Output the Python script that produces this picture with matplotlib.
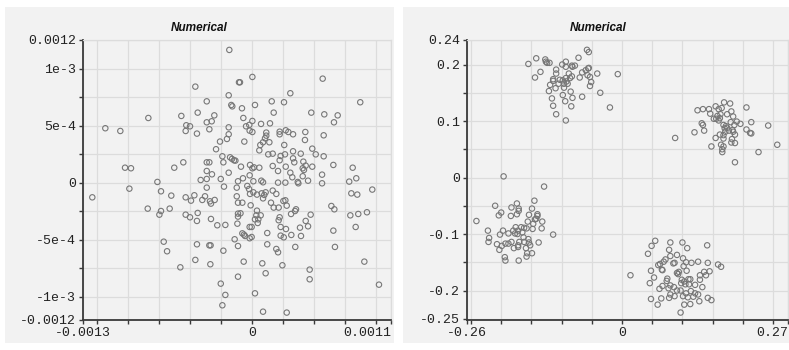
import matplotlib
matplotlib.use("Agg")
import matplotlib.pyplot as plt
from matplotlib.patches import Rectangle
import numpy as np

# left panel points, values in units of 1e-4
left_upper_left = [
    (-1.83, 11.67), (-1.05, 8.83), (-4.57, 8.45), (-1.88, 7.69), (-3.65, 7.16), (-1.67, 6.84),
    (-1.59, 6.72), (-4.38, 6.17), (-5.70, 5.88), (-3.04, 5.93), (-8.36, 5.70), (-3.25, 5.41),
    (-3.65, 5.32), (-1.88, 4.88), (-5.30, 5.06), (-5.00, 4.97), (-5.35, 4.56), (-11.83, 4.80),
    (-10.62, 4.56), (-4.44, 4.33), (-3.44, 4.71), (-1.88, 4.27), (-2.02, 3.86), (-2.58, 3.63),
    (-2.90, 2.96), (-2.39, 2.34), (-1.77, 2.25), (-1.61, 2.11), (-1.45, 1.99), (-1.34, 1.96),
    (-2.31, 1.81), (-5.54, 1.81), (-3.65, 1.81), (-3.44, 1.81), (-10.24, 1.34), (-9.76, 1.29),
    (-6.27, 1.34), (-3.65, 1.05), (-1.88, 0.90), (-3.23, 0.76), (-7.63, 0.09), (-4.14, 0.26),
    (-3.65, 0.35), (-2.52, 0.35), (-1.13, 0.15),
]
left_upper_right = [
    (0.03, 9.30), (-0.97, 8.83), (5.70, 9.15), (3.09, 7.87), (8.73, 7.08), (1.59, 7.16),
    (2.58, 7.08), (-0.81, 6.55), (0.24, 6.84), (1.75, 6.17), (4.78, 6.17), (5.83, 6.02),
    (6.91, 5.93), (-0.70, 5.70), (0.03, 5.44), (6.61, 5.32), (-0.22, 5.09), (-0.48, 4.97),
    (0.73, 5.18), (1.45, 5.23), (-0.19, 4.59), (0.03, 4.47), (1.15, 4.42), (2.23, 4.50),
    (2.23, 4.27), (2.72, 4.62), (2.93, 4.47), (3.31, 4.27), (4.30, 4.47), (5.78, 4.18),
    (4.27, 3.77), (1.15, 4.15), (1.05, 3.92), (-0.62, 3.63), (0.89, 3.57), (1.40, 3.57),
    (0.67, 3.33), (2.60, 3.33), (0.59, 2.86), (4.86, 3.01), (3.31, 2.78), (1.31, 2.51),
    (1.67, 2.57), (2.66, 2.51), (3.93, 2.57), (5.14, 2.51), (5.78, 2.34), (2.31, 2.37),
    (2.23, 1.99), (3.31, 2.16), (3.41, 1.81), (4.14, 1.87), (4.33, 1.52), (4.09, 1.29),
    (4.19, 1.14), (4.86, 1.43), (6.56, 1.58), (8.12, 1.34), (8.41, 0.41), (7.84, 0.12),
    (5.65, 0.73), (5.65, -0.03), (-0.89, 1.43), (-0.16, 1.58), (0.03, 1.29), (0.16, 1.37),
    (0.59, 1.34), (1.67, 1.49), (2.10, 1.05), (2.72, 1.43), (3.09, 0.90), (3.25, 0.50),
    (4.09, 0.59), (4.52, 0.20), (-0.19, 0.67), (-0.73, 0.41), (0.11, 0.15), (0.75, 0.20),
    (0.89, 0.06), (2.10, 0.03), (2.69, 0.03), (3.69, 0.09), (3.74, -0.03),
]
left_lower_left = [
    (-12.88, -1.26), (-9.89, -0.50), (-7.34, -0.73), (-6.51, -1.11), (-5.35, -1.26),
    (-4.92, -1.55), (-4.65, -1.08), (-4.01, -1.49), (-3.79, -1.17), (-3.65, -0.41),
    (-2.26, -0.32), (-1.23, -0.41), (-1.23, -1.17), (-1.13, -1.73), (-3.39, -1.61),
    (-3.31, -1.81), (-3.01, -1.49), (-8.41, -2.25), (-7.34, -2.46), (-7.47, -2.78),
    (-6.64, -2.25), (-5.35, -2.78), (-5.00, -3.01), (-4.38, -2.63), (-4.44, -3.33),
    (-3.31, -3.16), (-2.80, -3.71), (-2.15, -3.68), (-1.13, -2.95), (-1.13, -2.69),
    (-1.18, -3.57), (-1.40, -4.94), (-1.13, -5.53), (-7.12, -5.15), (-6.85, -5.99),
    (-4.44, -5.38), (-3.44, -5.47), (-3.34, -5.47), (-2.31, -5.94), (-4.57, -6.75),
    (-3.36, -7.13), (-5.78, -7.40), (-1.13, -8.22), (-2.52, -8.83), (-2.15, -9.82),
    (-2.39, -10.73),
]
left_lower_right = [
    (-0.38, -0.26), (-0.24, -0.53), (-0.16, -0.96), (0.11, -0.82), (0.40, -1.02), (0.78, -0.91),
    (0.89, -1.35), (0.99, -1.05), (1.10, -0.82), (1.67, -0.67), (1.96, -0.96), (1.53, -1.73),
    (1.75, -2.16), (2.15, -2.16), (2.53, -1.58), (2.69, -1.52), (2.80, -1.99), (-0.78, -1.73),
    (-0.11, -1.96), (-0.93, -2.66), (0.35, -2.84), (0.70, -2.84), (0.24, -3.19), (0.51, -3.19),
    (0.46, -3.51), (0.40, -2.43), (-0.19, -3.86), (-0.03, -3.86), (-0.78, -4.42), (-0.65, -4.53),
    (-0.56, -4.65), (-0.19, -4.85), (-0.03, -4.74), (1.23, -4.39), (1.23, -5.38), (1.96, -5.79),
    (2.10, -6.08), (2.15, -3.27), (2.23, -3.01), (2.31, -3.86), (2.74, -4.04), (2.31, -4.62),
    (2.56, -4.77), (3.17, -4.56), (3.15, -2.72), (3.47, -2.46), (3.55, -2.31), (3.87, -3.92),
    (3.95, -4.65), (3.49, -5.61), (4.33, -3.33), (4.52, -3.80), (4.73, -2.78), (2.45, -7.22),
    (0.83, -7.05), (1.10, -7.92), (-0.67, -6.90), (0.24, -9.68), (0.89, -11.29), (2.80, -11.37),
    (4.65, -7.60), (4.65, -8.45), (6.40, -2.02), (6.64, -2.31), (6.56, -4.18), (6.69, -5.61),
    (8.01, -0.91), (8.49, -1.02), (9.70, -0.58), (7.93, -2.84), (8.57, -2.72), (9.27, -2.57),
    (8.36, -3.86), (9.06, -6.90), (10.24, -8.92),
]

# right panel, four clusters
right_top_left = [
    (-0.058, 0.226), (-0.055, 0.222), (-0.142, 0.211), (-0.155, 0.201), (-0.127, 0.209),
    (-0.126, 0.205), (-0.124, 0.203), (-0.120, 0.203), (-0.093, 0.205), (-0.099, 0.200),
    (-0.093, 0.196), (-0.083, 0.198), (-0.078, 0.198), (-0.082, 0.196), (-0.072, 0.212),
    (-0.056, 0.193), (-0.055, 0.194), (-0.060, 0.190), (-0.109, 0.191), (-0.109, 0.184),
    (-0.135, 0.187), (-0.066, 0.186), (-0.057, 0.181), (-0.053, 0.178), (-0.041, 0.184),
    (-0.007, 0.183), (-0.144, 0.177), (-0.088, 0.184), (-0.083, 0.179), (-0.086, 0.176),
    (-0.070, 0.177), (-0.114, 0.174), (-0.114, 0.171), (-0.103, 0.173), (-0.098, 0.172),
    (-0.093, 0.176), (-0.092, 0.170), (-0.096, 0.166), (-0.090, 0.166), (-0.105, 0.166),
    (-0.119, 0.164), (-0.051, 0.169), (-0.053, 0.162), (-0.096, 0.159), (-0.110, 0.158),
    (-0.121, 0.153), (-0.085, 0.152), (-0.036, 0.150), (-0.098, 0.146), (-0.066, 0.143),
    (-0.082, 0.141), (-0.116, 0.140), (-0.094, 0.135), (-0.114, 0.127), (-0.084, 0.126),
    (-0.020, 0.124), (-0.109, 0.112), (-0.093, 0.101), (-0.196, 0.002),
]
right_top_right = [
    (0.169, 0.133), (0.179, 0.131), (0.206, 0.124), (0.155, 0.126), (0.160, 0.121),
    (0.165, 0.123), (0.125, 0.119), (0.134, 0.121), (0.144, 0.121), (0.146, 0.113),
    (0.163, 0.112), (0.158, 0.109), (0.156, 0.104), (0.160, 0.101), (0.162, 0.105),
    (0.181, 0.117), (0.174, 0.112), (0.184, 0.108), (0.152, 0.104), (0.132, 0.096),
    (0.134, 0.093), (0.168, 0.093), (0.172, 0.091), (0.174, 0.088), (0.170, 0.087),
    (0.180, 0.098), (0.186, 0.093), (0.190, 0.099), (0.196, 0.095), (0.214, 0.098),
    (0.242, 0.092), (0.177, 0.083), (0.183, 0.084), (0.184, 0.081), (0.171, 0.081),
    (0.168, 0.075), (0.162, 0.076), (0.136, 0.083), (0.120, 0.080), (0.206, 0.085),
    (0.212, 0.079), (0.214, 0.078), (0.187, 0.076), (0.088, 0.070), (0.155, 0.070),
    (0.168, 0.069), (0.182, 0.068), (0.181, 0.062), (0.187, 0.061), (0.148, 0.055),
    (0.164, 0.058), (0.168, 0.055), (0.166, 0.050), (0.166, 0.045), (0.226, 0.045),
    (0.257, 0.058), (0.187, 0.027),
]
right_bottom_left = [
    (-0.129, -0.016), (-0.210, -0.050), (-0.145, -0.041), (-0.174, -0.046), (-0.171, -0.055),
    (-0.171, -0.059), (-0.183, -0.053), (-0.174, -0.065), (-0.200, -0.062), (-0.204, -0.067),
    (-0.184, -0.068), (-0.149, -0.055), (-0.154, -0.066), (-0.140, -0.065), (-0.140, -0.068),
    (-0.142, -0.073), (-0.144, -0.074), (-0.132, -0.078), (-0.156, -0.078), (-0.147, -0.082),
    (-0.241, -0.077), (-0.133, -0.090), (-0.148, -0.091), (-0.176, -0.088), (-0.167, -0.088),
    (-0.162, -0.089), (-0.158, -0.090), (-0.180, -0.094), (-0.172, -0.094), (-0.165, -0.097),
    (-0.197, -0.094), (-0.222, -0.094), (-0.188, -0.099), (-0.202, -0.101), (-0.177, -0.099),
    (-0.173, -0.100), (-0.114, -0.101), (-0.163, -0.106), (-0.220, -0.107), (-0.221, -0.114),
    (-0.155, -0.109), (-0.154, -0.115), (-0.152, -0.120), (-0.162, -0.114), (-0.170, -0.114),
    (-0.138, -0.115), (-0.183, -0.114), (-0.188, -0.117), (-0.193, -0.117), (-0.207, -0.118),
    (-0.199, -0.121), (-0.203, -0.128), (-0.172, -0.120), (-0.172, -0.123), (-0.179, -0.125),
    (-0.159, -0.125), (-0.149, -0.134), (-0.157, -0.134), (-0.158, -0.140), (-0.194, -0.141),
    (-0.193, -0.147), (-0.171, -0.147),
]
right_bottom_right = [
    (0.055, -0.112), (0.080, -0.115), (0.100, -0.115), (0.049, -0.121), (0.141, -0.120),
    (0.108, -0.125), (0.078, -0.128), (0.043, -0.135), (0.091, -0.137), (0.080, -0.139),
    (0.101, -0.143), (0.072, -0.145), (0.069, -0.149), (0.063, -0.153), (0.085, -0.152),
    (0.087, -0.151), (0.106, -0.150), (0.115, -0.151), (0.126, -0.149), (0.142, -0.151),
    (0.102, -0.157), (0.060, -0.155), (0.066, -0.163), (0.067, -0.164), (0.048, -0.165),
    (0.107, -0.165), (0.091, -0.169), (0.093, -0.171), (0.094, -0.167), (0.136, -0.167),
    (0.145, -0.166), (0.159, -0.154), (0.164, -0.158), (0.129, -0.173), (0.139, -0.173),
    (0.014, -0.173), (0.053, -0.177), (0.075, -0.179), (0.046, -0.187), (0.099, -0.181),
    (0.103, -0.184), (0.098, -0.187), (0.110, -0.180), (0.113, -0.180), (0.105, -0.189),
    (0.111, -0.189), (0.121, -0.190), (0.129, -0.181), (0.074, -0.183), (0.067, -0.192),
    (0.062, -0.197), (0.080, -0.191), (0.077, -0.196), (0.086, -0.194), (0.091, -0.200),
    (0.097, -0.200), (0.133, -0.194), (0.114, -0.201), (0.121, -0.205), (0.126, -0.207),
    (0.106, -0.205), (0.080, -0.207), (0.087, -0.210), (0.078, -0.213), (0.101, -0.210),
    (0.109, -0.212), (0.118, -0.211), (0.048, -0.215), (0.065, -0.214), (0.128, -0.219),
    (0.142, -0.213), (0.148, -0.217), (0.059, -0.225), (0.103, -0.225), (0.113, -0.224),
    (0.097, -0.239),
]

W, H = 789, 350
bg = "#f2f2f2"
grid_col = "#dcdcdc"
axis_col = "#3a3a3a"
mono = "Liberation Mono"

fig = plt.figure(figsize=(W / 100, H / 100), dpi=100, facecolor="white")
for x0, x1 in [(5, 394), (403, 789)]:
    fig.patches.append(Rectangle((x0 / W, (H - 343) / H), (x1 - x0) / W, 336 / H,
                                 transform=fig.transFigure, facecolor=bg,
                                 edgecolor="none", zorder=-5))

ax1 = fig.add_axes([83 / W, 30 / H, 308 / W, 280 / H])
ax2 = fig.add_axes([467 / W, 30 / H, 321 / W, 280 / H])


def style(ax, xlim, ylim, xticks, xlabels, yticks, ylabels):
    ax.set_facecolor(bg)
    ax.set_xlim(*xlim)
    ax.set_ylim(*ylim)
    ax.set_xticks(xticks)
    ax.set_xticklabels(xlabels)
    ax.set_yticks(yticks)
    ax.set_yticklabels(ylabels)
    ax.grid(True, color=grid_col, lw=0.9, zorder=0)
    ax.set_axisbelow(True)
    for s in ["top", "right"]:
        ax.spines[s].set_color(grid_col)
        ax.spines[s].set_linewidth(0.9)
    for s in ["left", "bottom"]:
        ax.spines[s].set_color(axis_col)
        ax.spines[s].set_linewidth(1.3)
    ax.tick_params(direction="out", length=3, width=1, color=axis_col,
                   labelsize=9.5, pad=2, labelcolor="#222222")
    for lab in ax.get_xticklabels() + ax.get_yticklabels():
        lab.set_fontfamily(mono)


def scatter(ax, groups, scale=1.0):
    for g in groups:
        xs, ys = zip(*g)
        ax.scatter(np.array(xs) * scale, np.array(ys) * scale, s=15,
                   facecolors="none", edgecolors="#777777", linewidths=0.8, zorder=3)


# left panel
lx = (-1.363e-3, 1.121e-3)
ly = (-1.202e-3, 1.254e-3)
lgx = list(np.arange(-5, 5) * 2.5e-4)
xt = [lx[0]] + lgx + [lx[1]]
xl = ["-0.0013"] + ["0" if abs(v) < 1e-9 else "" for v in lgx] + ["0.0011"]
lgy = list(np.arange(-4, 5) * 2.5e-4)
ymap = {-4: "-1e-3", -2: "-5e-4", 0: "0", 2: "5e-4", 4: "1e-3"}
yt = [ly[0]] + lgy + [ly[1]]
yl = ["-0.0012"] + [ymap.get(int(round(v / 2.5e-4)), "") for v in lgy] + ["0.0012"]
style(ax1, lx, ly, xt, xl, yt, yl)
ax1.get_xticklabels()[-1].set_ha("right")
scatter(ax1, [left_upper_left, left_upper_right, left_lower_left, left_lower_right], 1e-4)

# right panel
rx = (-0.2566, 0.2748)
ry = (-0.2522, 0.2434)
rgx = list(np.arange(-5, 6) * 0.05)
xt = [rx[0]] + rgx + [rx[1]]
xl = ["-0.26"] + ["0" if abs(v) < 1e-9 else "" for v in rgx] + ["0.27"]
rgy = list(np.arange(-5, 5) * 0.05)
ymap = {-5: "-0.25", -4: "-0.2", -2: "-0.1", 0: "0", 2: "0.1", 4: "0.2"}
yt = rgy + [ry[1]]
yl = [ymap.get(int(round(v / 0.05)), "") for v in rgy] + ["0.24"]
style(ax2, rx, ry, xt, xl, yt, yl)
ax2.get_xticklabels()[-1].set_ha("right")
scatter(ax2, [right_top_left, right_top_right, right_bottom_left, right_bottom_right])

for cx in (199, 598):
    fig.text(cx / W, 1 - 28 / H, "Numerical", ha="center", va="center",
             fontsize=8.5, fontweight="bold", fontstyle="italic",
             family="Liberation Sans", color="#111111")

fig.savefig("out.png", dpi=100, facecolor="white")
